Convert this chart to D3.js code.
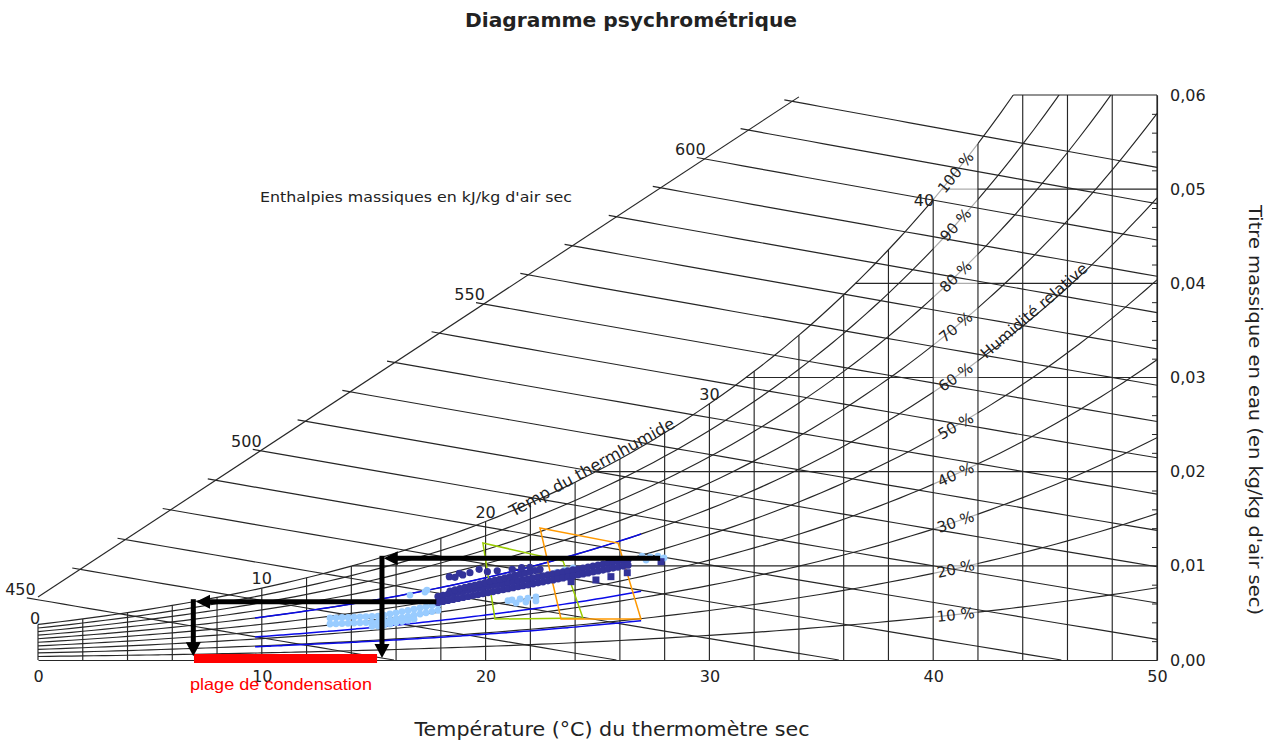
<!DOCTYPE html>
<html><head><meta charset="utf-8">
<script src="https://cdn.jsdelivr.net/npm/d3@7"></script>
<style>body{margin:0;background:#fff}svg{display:block}</style>
</head><body>
<svg id="c" width="1277" height="747"></svg>
<script>
// ---------------- DATA ----------------
const tempTicks = [0, 10, 20, 30, 40, 50];
const dryBulbGrid = d3.range(0, 51, 2);
const wTicks = [0, 0.01, 0.02, 0.03, 0.04, 0.05, 0.06];
const wTickLabels = ["0,00", "0,01", "0,02", "0,03", "0,04", "0,05", "0,06"];
const wMinorTicks = [0.002,0.004,0.006,0.008,0.012,0.014,0.016,0.018,0.022,0.024,0.026,0.028,0.032,0.034,0.036,0.038,0.042,0.044,0.046,0.048,0.052,0.054,0.056,0.058];
const wGridLines = [0.01, 0.02, 0.03, 0.04, 0.05, 0.06];
// saturation vapour pressure (kPa) at 0..50 °C
const satPressureKPa = [0.6113,0.6571,0.7060,0.7581,0.8135,0.8726,0.9354,1.0021,1.0730,1.1482,1.2282,1.3129,1.4028,1.4981,1.5989,1.7057,1.8188,1.9383,2.0647,2.1982,2.3392,2.4881,2.6452,2.8109,2.9856,3.1697,3.3637,3.5679,3.7828,4.0089,4.2467,4.4966,4.7592,5.0351,5.3247,5.6286,5.9475,6.2818,6.6324,6.9997,7.3844,7.7873,8.2090,8.6503,9.1118,9.5944,10.099,10.627,11.177,11.752,12.352];
const rhLevels = [10, 20, 30, 40, 50, 60, 70, 80, 90, 100];
const rhLabelTemp = 41;
const enthalpyLines = [16,26,36,46,56,66,76,86,96,106,116,126,136,146,156,166,176,186];
const enthalpyLabelText = ["450", "500", "550", "600"];
const enthalpyLabelAt = [16, 66, 116, 166];
const enthalpyScaleStart = [0, 0.00669];
const enthalpyScaleEnd = [34.0, 0.0598];
const wetBulbLabels = [0, 10, 20, 30, 40];

// overlay data (T °C, W kg/kg)
const blueRhCurves = [60, 33, 19];
const blueRhRange = [9.7, 27.0];
const greenZone = [[19.88,0.01242],[23.46,0.01051],[24.35,0.00446],[20.42,0.00435]];
const orangeZone = [[22.43,0.01402],[25.92,0.01242],[26.94,0.00435],[23.37,0.00435]];
const darkBandT = [17.873,18.097,18.320,18.543,18.767,18.990,19.214,19.437,19.660,19.884,20.107,20.331,20.554,20.777,21.001,21.224,21.448,21.671,21.894,22.118,22.341,22.565,22.788,23.012,23.235,23.458,23.682,23.905,24.129,24.352,24.576,24.799,25.022,25.246,25.469,25.693,25.916,26.139,26.363];
const darkBandUpperW = [0.006754,0.006860,0.006966,0.007062,0.007168,0.007274,0.007380,0.007487,0.007582,0.007688,0.007794,0.007901,0.008007,0.008102,0.008209,0.008315,0.008421,0.008527,0.008623,0.008729,0.008835,0.008941,0.009047,0.009143,0.009249,0.009355,0.009462,0.009568,0.009663,0.009770,0.009876,0.009982,0.010088,0.010184,0.010290,0.010396,0.010502,0.010560,0.010640];
const darkBandLowerW = [0.006117,0.006223,0.006329,0.006425,0.006531,0.006637,0.006743,0.006849,0.006945,0.007051,0.007157,0.007264,0.007370,0.007465,0.007571,0.007678,0.007784,0.007890,0.007986,0.008092,0.008198,0.008304,0.008410,0.008506,0.008612,0.008718,0.008825,0.008931,0.009026,0.009132,0.009239,0.009345,0.009451,0.009547,0.009653,0.009759,0.009865,0.009971,0.010067];
const darkStreakT = [18.409,18.633,18.856,19.080,19.303,19.526,19.750,19.973,20.197,20.420,20.643,20.867,21.090,21.314,21.537,21.761,21.984,22.207,22.431];
const darkStreakW = [0.007327,0.007455,0.007582,0.007709,0.007837,0.007964,0.008092,0.008219,0.008347,0.008474,0.008601,0.008729,0.008856,0.008984,0.009111,0.009239,0.009366,0.009494,0.009621];
const darkDots = [[18.38,0.00885],[18.63,0.00878],[18.83,0.00921],[18.98,0.00903],[19.30,0.00927],[19.71,0.00963],[20.08,0.00938],[20.52,0.00948],[21.19,0.00963],[21.61,0.00980],[21.98,0.00984]];
const darkSquares = [[23.82,0.00832],[24.93,0.00850],[25.60,0.00885],[26.33,0.00927],[27.84,0.01044]];
const lightBandT = [13.047,13.315,13.584,13.852,14.120,14.388,14.656,14.924,15.192,15.460,15.728,15.996,16.265,16.533,16.801,17.069,17.337,17.605,17.873];
const lightBandUpperW = [0.004460,0.004481,0.004513,0.004534,0.004556,0.004587,0.004609,0.004641,0.004662,0.004757,0.004885,0.005012,0.005140,0.005267,0.005394,0.005522,0.005649,0.005777,0.005904];
const lightBandLowerW = [0.003823,0.003844,0.003876,0.003897,0.003918,0.003950,0.003972,0.004003,0.004025,0.004120,0.004248,0.004375,0.004502,0.004630,0.004757,0.004885,0.005012,0.005140,0.005267];
const lightBandExtra = [[14.924,0.003579],[15.192,0.003600],[15.460,0.003695],[15.728,0.003823],[15.996,0.003950],[16.265,0.004078],[16.533,0.004205],[16.801,0.004333]];
const lightOther = [[21.18,0.00637],[21.54,0.00648],[21.89,0.00658],[22.25,0.00669],[21.36,0.00605],[21.80,0.00616],[22.25,0.00627],[21.00,0.00630],
  [23.19,0.00934],[23.55,0.00956],[23.91,0.00977],[26.99,0.01104],[27.35,0.01094],[27.70,0.01104],[27.97,0.01083],[27.17,0.01062],
  [17.29,0.00722],[17.38,0.00743],[16.62,0.00690],[25.65,0.01041]];
const arrowsH = [{t0: 27.8, t1: 15.45, w: 0.0108}, {t0: 17.8, t1: 7.06, w: 0.00619}];
const arrowsV = [{t: 15.37, w0: 0.0108, w1: 0.0002}, {t: 6.94, w0: 0.00619, w1: 0.0004}];
const condensationRange = [6.97, 15.15];
const condensationW = 0.00016;

// ---------------- SCALES ----------------
const X = d3.scaleLinear().domain([0, 50]).range([38, 1157]);
const Y = d3.scaleLinear().domain([0, 0.06]).range([660, 95]);
const P = 101.325;
const ps = T => {
  const i = Math.max(0, Math.min(49, Math.floor(T)));
  const f = T - i;
  return Math.exp(Math.log(satPressureKPa[i]) * (1 - f) + Math.log(satPressureKPa[i + 1]) * f);
};
const wOf = (T, phi) => { const pw = phi * ps(T); return 0.622 * pw / (P - pw); };
const tSat = W => {
  const pw = W * P / (0.622 + W);
  let a = 0, b = 50;
  for (let k = 0; k < 60; k++) { const m = (a + b) / 2; if (ps(m) < pw) a = m; else b = m; }
  return (a + b) / 2;
};
const wH = (h, T) => (h - 1.006 * T) / (2501 + 1.86 * T);
const diagW = T => enthalpyScaleStart[1] + (T - enthalpyScaleStart[0]) * (enthalpyScaleEnd[1] - enthalpyScaleStart[1]) / (enthalpyScaleEnd[0] - enthalpyScaleStart[0]);
const hIntersect = h => {
  let a = -3, b = 45;
  for (let k = 0; k < 60; k++) { const m = (a + b) / 2; if (diagW(m) - wH(h, m) < 0) a = m; else b = m; }
  return (a + b) / 2;
};

const svg = d3.select("#c");
const FONT = "DejaVu Sans, Verdana, sans-serif";
const GRID = "#262626";
const GW = 1.15;
svg.append("defs").append("clipPath").attr("id", "plot")
  .append("rect").attr("x", X(0)).attr("y", Y(0.06)).attr("width", X(50) - X(0)).attr("height", Y(0) - Y(0.06));
const line = d3.line().x(d => X(d[0])).y(d => Y(d[1]));
const smooth = d3.line().x(d => X(d[0])).y(d => Y(d[1])).curve(d3.curveMonotoneX);

const grid = svg.append("g").attr("fill", "none").attr("stroke", GRID).attr("stroke-width", GW);

// horizontal humidity-ratio lines
grid.selectAll(".wl").data(wGridLines).join("line")
  .attr("x1", d => X(Math.min(50, tSat(d)))).attr("x2", X(50))
  .attr("y1", d => Y(d)).attr("y2", d => Y(d));

// relative humidity curves
const rhG = grid.append("g").attr("clip-path", "url(#plot)");
rhLevels.forEach(rh => {
  const pts = d3.range(0, 50.01, 0.5).map(T => [T, wOf(T, rh / 100)]);
  rhG.append("path").attr("d", smooth(pts));
});

// light band behind RH labels
svg.append("rect").attr("x", X(40)).attr("y", Y(0.06)).attr("width", X(42) - X(40))
  .attr("height", Y(0) - Y(0.06)).attr("fill", "#fff").attr("opacity", 0.62);

const grid2 = svg.append("g").attr("fill", "none").attr("stroke", GRID).attr("stroke-width", GW);
// vertical dry bulb lines
grid2.selectAll(".vl").data(dryBulbGrid).join("line")
  .attr("x1", d => X(d)).attr("x2", d => X(d))
  .attr("y1", Y(0)).attr("y2", d => Y(Math.min(0.06, wOf(d, 1))));

// enthalpy oblique scale
grid2.append("path").attr("d", line([enthalpyScaleStart, enthalpyScaleEnd]));
// enthalpy lines
enthalpyLines.forEach(h => {
  const ts = hIntersect(h) - 0.35;
  const te = Math.min(50, h / 1.006);
  const pts = d3.range(0, 31).map(k => { const T = ts + (te - ts) * k / 30; return [T, Math.max(0, wH(h, T))]; });
  grid2.append("path").attr("d", line(pts));
});

// axes
const rightAxis = d3.axisRight(Y).tickValues(wTicks).tickSize(0).tickSizeOuter(0).tickPadding(13)
  .tickFormat((d, i) => wTickLabels[i]);
const ra = svg.append("g").attr("transform", `translate(${X(50)},0)`).call(rightAxis);
ra.select(".domain").attr("stroke", GRID).attr("stroke-width", GW);
ra.selectAll("text").attr("font-family", FONT).attr("font-size", 16).attr("fill", "#222");
const minor = svg.append("g").attr("transform", `translate(${X(50)},0)`)
  .call(d3.axisLeft(Y).tickValues(wMinorTicks).tickSize(5).tickFormat(""));
minor.select(".domain").remove();
minor.selectAll("line").attr("stroke", GRID);
const ba = svg.append("g").attr("transform", `translate(0,${Y(0)})`)
  .call(d3.axisBottom(X).tickValues(tempTicks).tickSize(0).tickSizeOuter(0).tickPadding(11));
ba.select(".domain").attr("stroke", GRID).attr("stroke-width", GW);
ba.selectAll("text").attr("font-family", FONT).attr("font-size", 16).attr("fill", "#222");

// enthalpy labels
const labels = svg.append("g").attr("font-family", FONT).attr("fill", "#222");
enthalpyLabelAt.forEach((h, i) => {
  const T = hIntersect(h);
  labels.append("text").attr("x", X(T) + 1).attr("y", Y(diagW(T)) - 4)
    .attr("text-anchor", "end").attr("font-size", 16).text(enthalpyLabelText[i]);
});
// wet bulb labels
wetBulbLabels.forEach(T => {
  const t = labels.append("text").attr("font-size", 16).text(T);
  if (T === 40) t.attr("x", X(T) + 1).attr("y", Y(wOf(T, 1)) + 6).attr("text-anchor", "end");
  else if (T === 0) t.attr("x", X(T) - 3).attr("y", Y(wOf(T, 1))).attr("text-anchor", "middle");
  else t.attr("x", X(T)).attr("y", Y(wOf(T, 1)) - 4).attr("text-anchor", "middle");
});
// RH labels
rhLevels.forEach(rh => {
  const phi = rh / 100;
  const a = Math.atan2(Y(wOf(rhLabelTemp + 0.5, phi)) - Y(wOf(rhLabelTemp - 0.5, phi)), X(rhLabelTemp + 0.5) - X(rhLabelTemp - 0.5)) * 180 / Math.PI;
  labels.append("text").attr("transform", `translate(${X(rhLabelTemp)},${Y(wOf(rhLabelTemp, phi))}) rotate(${a})`)
    .attr("text-anchor", "middle").attr("dy", "0.36em").attr("font-size", 15).text(rh + " %");
});
// text annotations
labels.append("text").attr("x", 631).attr("y", 27).attr("text-anchor", "middle").attr("font-weight", "bold")
  .attr("font-size", 20).attr("textLength", 332).attr("lengthAdjust", "spacingAndGlyphs").text("Diagramme psychrométrique");
labels.append("text").attr("x", 260).attr("y", 202).attr("font-size", 14)
  .attr("textLength", 312).attr("lengthAdjust", "spacingAndGlyphs").text("Enthalpies massiques en kJ/kg d'air sec");
labels.append("text").attr("x", 612).attr("y", 736).attr("text-anchor", "middle").attr("font-size", 19)
  .attr("textLength", 395).attr("lengthAdjust", "spacingAndGlyphs").text("Température (°C) du thermomètre sec");
labels.append("text").attr("transform", "translate(1249,410) rotate(90)").attr("text-anchor", "middle").attr("font-size", 18)
  .attr("textLength", 410).attr("lengthAdjust", "spacingAndGlyphs").text("Titre massique en eau (en kg/kg d'air sec)");
labels.append("text").attr("transform", `translate(${X(44.5)},${Y(0.0371)}) rotate(-41)`).attr("text-anchor", "middle")
  .attr("dy", "0.35em").attr("font-size", 15).attr("textLength", 136).attr("lengthAdjust", "spacingAndGlyphs").text("Humidité relative");
labels.append("text").attr("transform", `translate(${X(24.75)},${Y(0.0205)}) rotate(-29)`).attr("text-anchor", "middle")
  .attr("dy", "0.35em").attr("font-size", 16).attr("textLength", 186).attr("lengthAdjust", "spacingAndGlyphs").text("Temp du thermhumide");

// ---------------- OVERLAYS ----------------
const ov = svg.append("g");
blueRhCurves.forEach(rh => {
  const pts = d3.range(blueRhRange[0], blueRhRange[1] + 0.001, 0.25).map(T => [T, wOf(T, rh / 100)]);
  ov.append("path").attr("d", smooth(pts)).attr("fill", "none").attr("stroke", "#0a0ae8").attr("stroke-width", 1.5);
});
ov.append("path").attr("d", line(greenZone) + "Z").attr("fill", "none").attr("stroke", "#99cc00").attr("stroke-width", 1.5);
ov.append("path").attr("d", line(orangeZone) + "Z").attr("fill", "none").attr("stroke", "#ff9900").attr("stroke-width", 1.5);

const light = [];
lightBandT.forEach((T, i) => { light.push([T, lightBandUpperW[i]]); light.push([T, lightBandLowerW[i]]); });
lightBandExtra.forEach(d => light.push(d));
lightOther.forEach(d => light.push(d));
ov.selectAll(".lp").data(light).join("circle").attr("cx", d => X(d[0])).attr("cy", d => Y(d[1]))
  .attr("r", 3.4).attr("fill", "#99ccff");

const dark = [];
darkBandT.forEach((T, i) => { dark.push([T, darkBandUpperW[i]]); dark.push([T, darkBandLowerW[i]]); });
darkStreakT.forEach((T, i) => dark.push([T, darkStreakW[i]]));
darkDots.forEach(d => dark.push(d));
ov.selectAll(".dp").data(dark).join("circle").attr("cx", d => X(d[0])).attr("cy", d => Y(d[1]))
  .attr("r", 3.6).attr("fill", "#333399");
ov.selectAll(".ds").data(darkSquares).join("rect").attr("x", d => X(d[0]) - 3.5).attr("y", d => Y(d[1]) - 3.5)
  .attr("width", 7).attr("height", 7).attr("fill", "#333399");

// condensation range
ov.append("line").attr("x1", X(condensationRange[0])).attr("x2", X(condensationRange[1]))
  .attr("y1", Y(condensationW)).attr("y2", Y(condensationW)).attr("stroke", "#ff0000").attr("stroke-width", 9);
ov.append("text").attr("x", X(condensationRange[0]) - 4).attr("y", Y(0) + 30)
  .attr("font-family", "Liberation Sans, Arial, sans-serif").attr("font-size", 16.5).attr("fill", "#ff0000")
  .attr("textLength", 182).attr("lengthAdjust", "spacingAndGlyphs").text("plage de condensation");

// arrows
arrowsH.forEach(a => {
  const x1 = X(a.t1), yy = Y(a.w);
  ov.append("line").attr("x1", X(a.t0)).attr("x2", x1 + 12).attr("y1", yy).attr("y2", yy)
    .attr("stroke", "#000").attr("stroke-width", 5);
  ov.append("path").attr("d", `M${x1},${yy}L${x1 + 14},${yy - 7}L${x1 + 14},${yy + 7}Z`).attr("fill", "#000");
});
arrowsV.forEach(a => {
  const xx = X(a.t), y0 = Y(a.w0), y1 = Y(a.w1);
  ov.append("line").attr("x1", xx).attr("x2", xx).attr("y1", y0 - 2.5).attr("y2", y1 - 12)
    .attr("stroke", "#000").attr("stroke-width", 5);
  ov.append("path").attr("d", `M${xx},${y1}L${xx - 7.5},${y1 - 14}L${xx + 7.5},${y1 - 14}Z`).attr("fill", "#000");
});
</script>
</body></html>
